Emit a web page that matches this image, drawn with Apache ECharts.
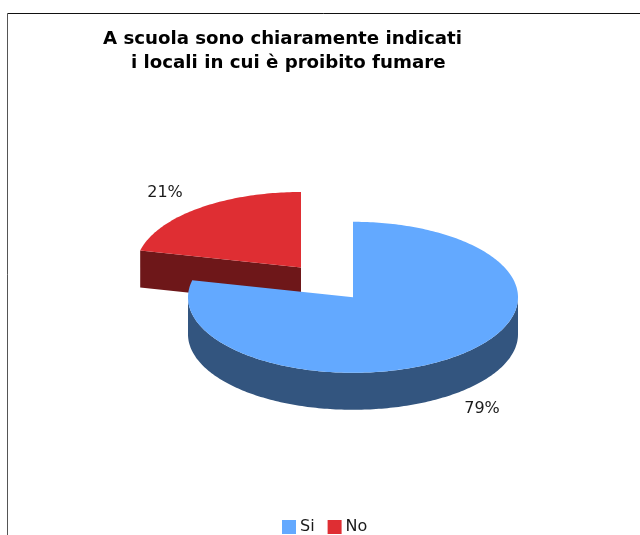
<!DOCTYPE html>
<html><head><meta charset="utf-8">
<style>html,body{margin:0;padding:0;background:#fff}#c{width:640px;height:535px}</style>
<script src="https://cdn.jsdelivr.net/npm/echarts@6/dist/echarts.min.js"></script>
</head><body><div id="c"></div>
<script>
const categories = ['Si', 'No'];
const values = [78.6, 21.4];
const labels = ['79%', '21%'];
const titleLines = ['A scuola sono chiaramente indicati', 'i locali in cui è proibito fumare'];
const topColors = ['#63a9ff', '#df2e33'];
const sideColors = ['#33557f', '#6e1719'];

const total = values.reduce((a, b) => a + b, 0);
const RX = 165, RY = 75.5, DEPTH = 37;
const centres = [[353, 297.3], [301, 267.5]];
const labelPos = [[482, 409], [165, 193]];

function pt(c, deg, dz) {
  const a = deg * Math.PI / 180;
  return [c[0] + RX * Math.sin(a), c[1] - RY * Math.cos(a) + (dz || 0)];
}
function arc(c, from, to, dz) {
  const out = [], n = Math.max(2, Math.ceil(Math.abs(to - from)));
  for (let i = 0; i <= n; i++) out.push(pt(c, from + (to - from) * i / n, dz));
  return out;
}
function sliceSeries(i) {
  let start = 0;
  for (let k = 0; k < i; k++) start += values[k];
  const from = start / total * 360, to = (start + values[i]) / total * 360;
  return {
    type: 'custom', name: categories[i], coordinateSystem: 'none',
    itemStyle: { color: topColors[i] },
    data: [[values[i]]],
    renderItem: function () {
      const c = centres[i], kids = [];
      const side = { fill: sideColors[i] };
      // radial wall facing the viewer (end of the slice on the left half)
      if (from > 180 && to > 180) {
        const e = pt(c, from);
        kids.push({ type: 'polygon', shape: { points: [c, e, [e[0], e[1] + DEPTH], [c[0], c[1] + DEPTH]] }, style: side });
      }
      // outer wall on the front half of the rim
      const a = Math.max(from, 90), b = Math.min(to, 270);
      if (b > a) {
        const top = arc(c, a, b, 0), bot = arc(c, a, b, DEPTH).reverse();
        kids.push({ type: 'polygon', shape: { points: top.concat(bot) }, style: side });
      }
      kids.push({ type: 'polygon', shape: { points: [c].concat(arc(c, from, to, 0)) }, style: { fill: topColors[i] } });
      kids.push({ type: 'text', x: labelPos[i][0], y: labelPos[i][1],
        style: { text: labels[i], fontFamily: 'DejaVu Sans', fontSize: 16, fill: '#1a1a1a', align: 'center', verticalAlign: 'middle' } });
      return { type: 'group', children: kids };
    }
  };
}
const chart = echarts.init(document.getElementById('c'), null, { renderer: 'canvas' });
const titleStyle = { fontFamily: 'DejaVu Sans', fontWeight: 'bold', fontSize: 18.2, color: '#000' };
chart.setOption({
  backgroundColor: '#fff',
  animation: false,
  title: [
    { text: titleLines[0], left: 98, top: 25, textStyle: titleStyle },
    { text: titleLines[1], left: 126, top: 49, textStyle: titleStyle }
  ],
  legend: {
    data: categories, top: 514, left: 277, icon: 'rect', itemWidth: 14, itemHeight: 14, itemGap: 13,
    textStyle: { fontFamily: 'DejaVu Sans', fontSize: 16, color: '#1a1a1a', padding: [0, 0, 0, -1] }
  },
  graphic: [
    { type: 'line', shape: { x1: 7.5, y1: 13.5, x2: 640, y2: 13.5 }, style: { stroke: '#111', lineWidth: 1 } },
    { type: 'line', shape: { x1: 7.5, y1: 13.5, x2: 7.5, y2: 535 }, style: { stroke: '#555', lineWidth: 1 } }
  ],
  series: [sliceSeries(1), sliceSeries(0)]
});
</script></body></html>
